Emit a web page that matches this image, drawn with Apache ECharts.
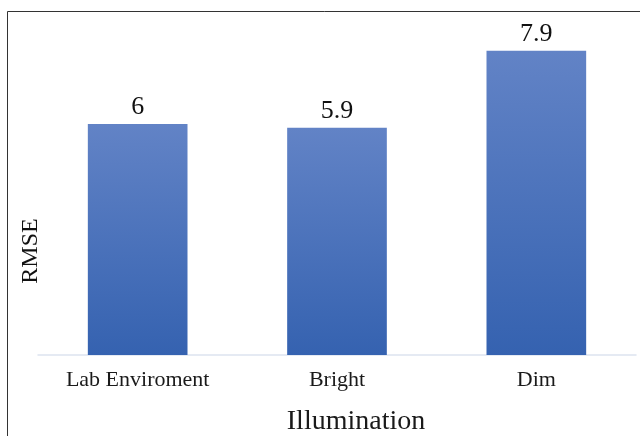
<!DOCTYPE html>
<html>
<head>
<meta charset="utf-8">
<script src="https://cdn.jsdelivr.net/npm/echarts@6/dist/echarts.min.js"></script>
<style>
  html, body { margin: 0; padding: 0; background: #fff; }
  #chart { width: 640px; height: 436px; }
</style>
</head>
<body>
<div id="chart"></div>
<script>
// RMSE under each illumination condition
const categories = ['Lab Enviroment', 'Bright', 'Dim'];
const rmseValues = [6, 5.9, 7.9];
const xTitle = 'Illumination';
const yTitle = 'RMSE';

const serif = '"Liberation Serif", "DejaVu Serif", serif';
const chart = echarts.init(document.getElementById('chart'), null, { renderer: 'canvas' });

chart.setOption({
  backgroundColor: '#ffffff',
  animation: false,
  graphic: [
    {
      type: 'rect',
      shape: { x: 7.5, y: 11.5, width: 700, height: 500 },
      style: { fill: 'none', stroke: '#333333', lineWidth: 1 },
      silent: true
    },
    {
      // vertical axis title
      type: 'text',
      x: 31, y: 251,
      rotation: Math.PI / 2,
      style: {
        text: yTitle,
        font: '24px ' + serif,
        fill: '#111',
        align: 'center',
        verticalAlign: 'middle'
      }
    },
    {
      // horizontal axis title
      type: 'text',
      x: 356, y: 422,
      style: {
        text: xTitle,
        font: '28px ' + serif,
        fill: '#1a1a1a',
        align: 'center',
        verticalAlign: 'middle'
      }
    }
  ],
  grid: {
    left: 38, right: 4, top: 8.5, bottom: 81,
    containLabel: false,
    outerBoundsMode: 'none'
  },
  xAxis: {
    type: 'category',
    data: categories,
    axisLine: { show: true, lineStyle: { color: '#dde3ef', width: 1.5 } },
    axisTick: { show: false },
    axisLabel: { fontFamily: serif, fontSize: 22, color: '#1a1a1a', margin: 14 }
  },
  yAxis: {
    type: 'value',
    min: 0,
    max: 9,
    show: false,
    splitLine: { show: false }
  },
  series: [{
    type: 'bar',
    data: rmseValues,
    barWidth: '50%',
    itemStyle: {
      color: new echarts.graphic.LinearGradient(0, 0, 0, 1, [
        { offset: 0, color: '#6283c6' },
        { offset: 1, color: '#3562b0' }
      ])
    },
    label: {
      show: true,
      position: 'top',
      distance: 4,
      fontFamily: serif,
      fontSize: 26,
      color: '#111'
    }
  }]
});
</script>
</body>
</html>
